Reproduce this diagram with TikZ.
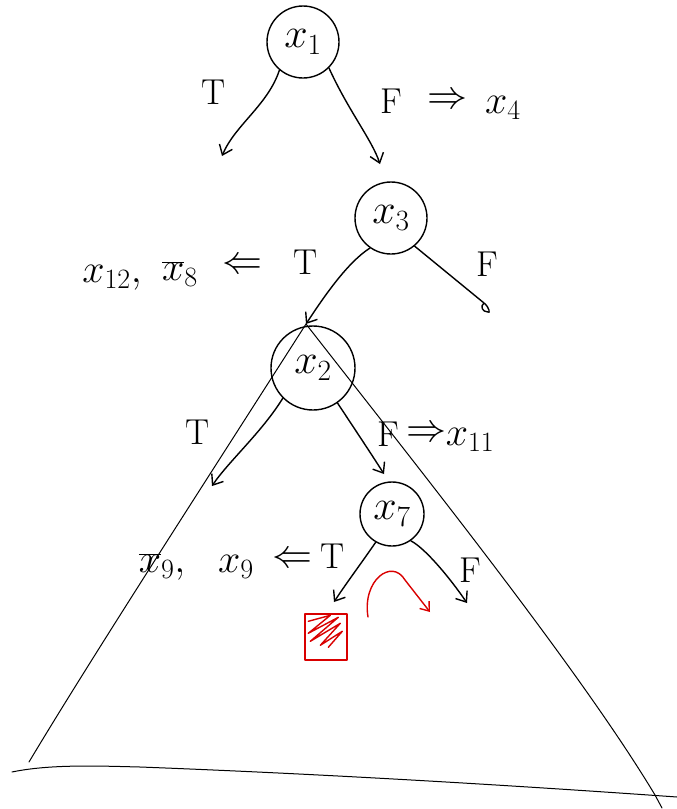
\RequirePackage{fix-cm}
\documentclass[tikz,border=0pt]{standalone}
\usetikzlibrary{arrows.meta}
\begin{document}
\begin{tikzpicture}[x=1pt,y=-1pt,
  ink/.style={line width=1.4pt, line cap=round, line join=round},
  thin ink/.style={line width=1pt, line cap=round},
  branch/.style={ink, -{Straight Barb[length=9pt,width=14pt,line width=1.4pt]}},
  var/.style={draw, ink, circle, minimum size=72pt, inner sep=0pt, font=\fontsize{42}{46}\selectfont},
  lbl/.style={font=\fontsize{36}{40}\selectfont, inner sep=0pt},
  mlbl/.style={font=\fontsize{40}{44}\selectfont, inner sep=0pt},
  redink/.style={line width=1.4pt, draw=red!85!black, line cap=round, line join=round}]
\useasboundingbox (0,0) rectangle (677,809);

% decision nodes
\node[var] (x1) at (303,42) {$x_1$};
\node[var, minimum size=72pt] (x3) at (391,218) {$x_3$};
\node[var, minimum size=84pt] (x2) at (313,368) {$x_2$};
\node[var, minimum size=64pt] (x7) at (392,514) {$x_7$};

% free ends of the branches
\coordinate (x1T) at (222,156);
\coordinate (x1F) at (380,164);
\coordinate (apex) at (306,324);
\coordinate (x3F) at (488,312);
\coordinate (x2T) at (212,486);
\coordinate (x2F) at (384,474);
\coordinate (x7T) at (334,602);
\coordinate (x7F) at (467,603);

% branches
\draw[branch] (x1.-130) .. controls (268,105) and (235,125) .. (x1T);
\draw[branch] (x1.-45) .. controls (348,110) and (372,140) .. (x1F);
\draw[branch] (x3.-125) .. controls (348,262) and (325,295) .. (apex);
\draw[ink] (x3.-50) -- (484,303) .. controls (490,308) and (490,314) .. (x3F)
  .. controls (482,312) and (480,306) .. (484,303);
\draw[branch] (x2.-135) .. controls (262,432) and (228,462) .. (x2T);
\draw[branch] (x2.-55) .. controls (352,425) and (372,455) .. (x2F);
\draw[branch] (x7.-120) .. controls (360,565) and (345,585) .. (x7T);
\draw[branch] (x7.-55) .. controls (425,548) and (450,578) .. (x7F);

% subtree triangle below x2
\coordinate (lfoot) at (29,762);
\coordinate (rfoot) at (662,808);
\draw[thin ink] (apex) .. controls (200,490) and (90,660) .. (lfoot);
\draw[thin ink] (apex) .. controls (420,470) and (580,670) .. (655,795) -- (rfoot);
\coordinate (bl) at (12,772);
\coordinate (br) at (677,797);
\draw[thin ink] (bl) .. controls (50,764) and (100,766) .. (140,767) .. controls (350,775) and (550,788) .. (br);

% branch labels
\node[lbl] (t1) at (214,92) {T};
\node[lbl] (f1) at (391,101) {F};
\node[mlbl] (imp1) at (447,101) {$\Rightarrow$};
\node[mlbl] (v4) at (503,108) {$x_4$};

\node[mlbl] (v12) at (112,278) {$x_{12},$};
\node[mlbl] (v8) at (180,274) {$\overline{x}_8$};
\node[mlbl] (imp3) at (242,266) {$\Leftarrow$};
\node[lbl] (t3) at (306,262) {T};
\node[lbl] (f3) at (487,264) {F};

\node[lbl] (t2) at (198,432) {T};
\node[lbl] (f2) at (388,434) {F};
\node[mlbl] (imp2) at (426,434) {$\Rightarrow$};
\node[mlbl] (v11) at (470,440) {$x_{11}$};

\node[mlbl] (v9a) at (162,567) {$\overline{x}_9,$};
\node[mlbl] (v9b) at (236,567) {$x_9$};
\node[mlbl] (imp7) at (292,560) {$\Leftarrow$};
\node[lbl] (t7) at (333,556) {T};
\node[lbl] (f7) at (470,570) {F};

% red hatched box and swap arrow
\node[redink, draw, minimum width=42pt, minimum height=46pt, inner sep=0pt] (box) at (326,637) {};
\draw[redink] (box.north west) ++(4,8) -- ++(22,-6) -- ++(-22,18) -- ++(30,-16) -- ++(-28,24)
  -- ++(30,-18) -- ++(-20,22) -- ++(22,-14) -- ++(-14,16);
\coordinate (swapA) at (368,617);
\coordinate (swapB) at (430,612);
\draw[redink, -{Straight Barb[length=8pt,width=12pt,line width=1.4pt]}]
  (swapA) .. controls (362,580) and (392,558) .. (405,580) -- (swapB);
\end{tikzpicture}
\end{document}
